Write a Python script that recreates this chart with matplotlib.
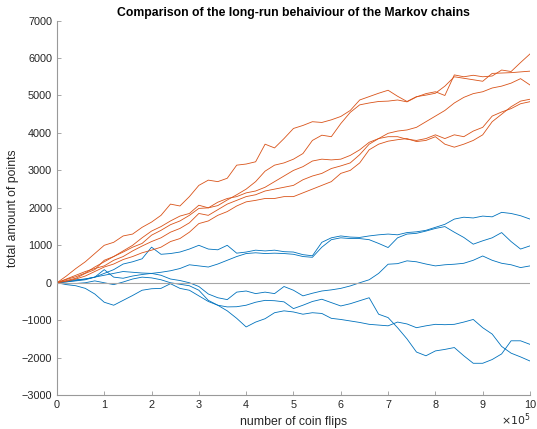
import numpy as np
import matplotlib
matplotlib.use("Agg")
import matplotlib.pyplot as plt

plt.rcParams['font.family'] = ['Liberation Sans', 'DejaVu Sans']

# number of coin flips, in units of 1e5 (read every 0.2e5)
flips = np.linspace(0, 10, 51)

# orange chains (drift upwards)
orange_a = [0, 180, 380, 560, 780, 1000, 1080, 1250, 1300, 1480, 1620, 1800, 2100, 2050, 2300, 2600, 2740,
            2700, 2790, 3140, 3170, 3230, 3700, 3600, 3850, 4120, 4200, 4300, 4280, 4350, 4440, 4600, 4880,
            4970, 5060, 5140, 4980, 4840, 4970, 5010, 5060, 5250, 5500, 5460, 5420, 5380, 5590, 5600, 5610,
            5630, 5650]
orange_b = [0, 90, 160, 260, 420, 560, 700, 850, 1000, 1200, 1380, 1500, 1650, 1780, 1850, 2070, 2000,
            2060, 2210, 2350, 2500, 2700, 2980, 3140, 3200, 3300, 3450, 3800, 3940, 3900, 4250, 4550, 4750,
            4800, 4840, 4850, 4880, 4830, 4960, 5050, 5100, 5000, 5550, 5500, 5540, 5500, 5520, 5680, 5640,
            5880, 6110]
orange_c = [0, 100, 200, 300, 380, 450, 600, 700, 850, 980, 1100, 1200, 1350, 1450, 1600, 1850, 1800,
            1950, 2100, 2200, 2300, 2350, 2450, 2500, 2550, 2600, 2750, 2850, 2920, 3050, 3120, 3200, 3420,
            3700, 3850, 3990, 4050, 4080, 4150, 4300, 4450, 4600, 4800, 4950, 5050, 5100, 5200, 5250, 5330,
            5450, 5280]
orange_d = [0, 60, 120, 250, 350, 600, 700, 820, 950, 1050, 1270, 1400, 1550, 1650, 1800, 1985, 2000,
            2150, 2250, 2300, 2400, 2450, 2550, 2700, 2850, 3000, 3100, 3250, 3300, 3280, 3300, 3400, 3550,
            3750, 3850, 3900, 3900, 3830, 3800, 3850, 3950, 3850, 3950, 3900, 4050, 4150, 4450, 4560, 4650,
            4780, 4835]
orange_e = [0, 40, 100, 180, 300, 420, 500, 620, 700, 800, 870, 950, 1100, 1180, 1350, 1580, 1650,
            1800, 1900, 2050, 2160, 2200, 2250, 2250, 2300, 2300, 2400, 2500, 2600, 2700, 2920, 3000, 3200,
            3550, 3700, 3780, 3820, 3850, 3770, 3800, 3900, 3700, 3620, 3700, 3800, 3950, 4300, 4500, 4700,
            4850, 4900]

# blue chains (no drift)
blue_a = [0, 20, 60, 100, 150, 250, 350, 500, 560, 640, 950, 760, 780, 820, 900, 1000, 900, 880, 1000,
          790, 820, 870, 850, 870, 830, 820, 750, 720, 1080, 1200, 1250, 1220, 1210, 1250, 1280, 1300, 1280,
          1340, 1360, 1400, 1480, 1560, 1700, 1750, 1730, 1780, 1760, 1880, 1850, 1790, 1700]
blue_b = [0, 30, 50, 80, 150, 350, 150, 120, 180, 220, 250, 280, 320, 380, 480, 450, 420, 500, 600, 700,
          780, 800, 780, 790, 780, 760, 700, 680, 950, 1150, 1200, 1180, 1180, 1150, 1050, 940, 1200, 1300,
          1320, 1380, 1450, 1500, 1350, 1210, 1030, 1120, 1200, 1340, 1100, 900, 985]
blue_c = [0, 40, 80, 100, 150, 200, 250, 300, 280, 260, 250, 200, 100, 60, 0, -100, -300, -400, -450,
          -250, -220, -290, -250, -290, -100, -200, -350, -280, -220, -190, -150, -85, 0, 80, 250, 495, 510,
          585, 560, 500, 450, 480, 495, 520, 600, 715, 600, 520, 480, 405, 450]
blue_d = [0, -30, -20, 0, 50, 0, -50, 20, 100, 150, 130, 80, 0, -40, -80, -200, -470, -600, -750, -950,
          -1180, -1050, -960, -800, -750, -780, -840, -800, -820, -950, -980, -1020, -1060, -1110, -1130,
          -1150, -1050, -1100, -1200, -1150, -1110, -1120, -1110, -1050, -980, -1200, -1370, -1700, -1880,
          -1980, -2090]
blue_e = [0, -50, -80, -150, -300, -520, -600, -470, -340, -200, -160, -150, -25, -150, -200, -350, -500,
          -600, -645, -640, -600, -520, -470, -480, -510, -690, -600, -500, -440, -530, -620, -560, -480,
          -400, -840, -930, -1200, -1500, -1850, -1950, -1820, -1780, -1730, -1950, -2150, -2150, -2050,
          -1900, -1550, -1550, -1645]

blue_runs = [blue_a, blue_b, blue_c, blue_d, blue_e]
orange_runs = [orange_a, orange_b, orange_c, orange_d, orange_e]

BLUE = '#0072BD'
ORANGE = '#D95319'

fig = plt.figure(figsize=(5.37, 4.29), dpi=100)
ax = fig.add_axes([0.106, 0.079, 0.881, 0.873])

for run in blue_runs:
    ax.plot(flips, run, color=BLUE, lw=0.6)
for run in orange_runs:
    ax.plot(flips, run, color=ORANGE, lw=0.6)
ax.axhline(0, color='#a6a6a6', lw=0.8, zorder=3)

ax.set_xlim(0, 10)
ax.set_ylim(-3000, 7000)
ax.set_xticks(range(0, 11))
ax.set_yticks(range(-3000, 7001, 1000))
ax.tick_params(direction='in', length=3, width=0.6, colors='#262626', labelsize=7.8,
               color='#999999')
for side in ['top', 'right']:
    ax.spines[side].set_visible(False)
for side in ['left', 'bottom']:
    ax.spines[side].set_color('#999999')
    ax.spines[side].set_linewidth(0.8)

ax.set_title('Comparison of the long-run behaiviour of the Markov chains',
             fontsize=8.8, fontweight='bold', pad=3)
ax.set_xlabel('number of coin flips', fontsize=8.8, color='#262626', labelpad=4)
ax.set_ylabel('total amount of points', fontsize=8.8, color='#262626', labelpad=2)
fig.text(0.987, 0.003, r'$\times10^5$', ha='right', va='bottom', fontsize=7.8, color='#262626')

fig.savefig('out.png', dpi=100)
